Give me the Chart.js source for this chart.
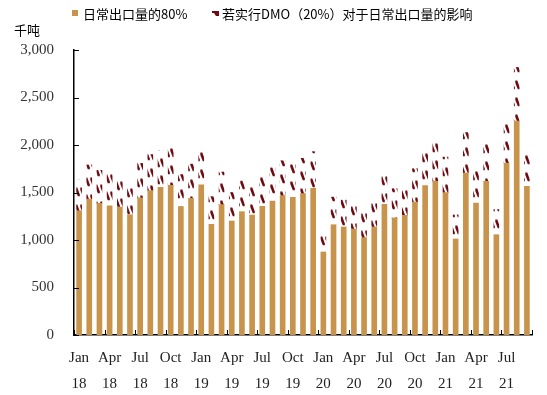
<!DOCTYPE html>
<html>
<head>
<meta charset="utf-8">
<script src="https://cdn.jsdelivr.net/npm/chart.js@4"></script>
<style>
  html, body { margin: 0; padding: 0; background: #fff; }
  #wrap { width: 547px; height: 395px; position: relative; }
</style>
</head>
<body>
<div id="wrap"><canvas id="dmoChart"></canvas></div>
<script>
// monthly categories, Jan 2018 - Sep 2021
const months = [
    'Jan 18', 'Feb 18', 'Mar 18', 'Apr 18', 'May 18', 'Jun 18', 'Jul 18', 'Aug 18', 'Sep 18', 'Oct 18', 'Nov 18', 'Dec 18',
    'Jan 19', 'Feb 19', 'Mar 19', 'Apr 19', 'May 19', 'Jun 19', 'Jul 19', 'Aug 19', 'Sep 19', 'Oct 19', 'Nov 19', 'Dec 19',
    'Jan 20', 'Feb 20', 'Mar 20', 'Apr 20', 'May 20', 'Jun 20', 'Jul 20', 'Aug 20', 'Sep 20', 'Oct 20', 'Nov 20', 'Dec 20',
    'Jan 21', 'Feb 21', 'Mar 21', 'Apr 21', 'May 21', 'Jun 21', 'Jul 21', 'Aug 21', 'Sep 21'
];

// 日常出口量的80% (千吨)
const exports80 = [
    1308, 1432, 1386, 1361, 1347, 1266, 1445, 1519, 1554, 1576, 1351, 1439,
    1582, 1165, 1372, 1200, 1298, 1263, 1354, 1410, 1467, 1449, 1488, 1544,
    874, 1161, 1137, 1116, 1025, 1137, 1375, 1232, 1260, 1400, 1572, 1618,
    1498, 1011, 1705, 1389, 1618, 1056, 1811, 2253, 1565
];

// 若实行DMO（20%）对于日常出口量的影响 (千吨)
const dmoImpact = [
    327, 358, 347, 340, 337, 317, 361, 380, 389, 394, 338, 360,
    396, 291, 343, 300, 325, 316, 339, 353, 367, 362, 372, 386,
    219, 290, 284, 279, 256, 284, 344, 308, 315, 350, 393, 405,
    375, 253, 426, 347, 405, 264, 453, 563, 391
];

const yTicks = [0, 500, 1000, 1500, 2000, 2500, 3000];
const seriesNames = ['日常出口量的80%', '若实行DMO（20%）对于日常出口量的影响'];
const unitLabel = '千吨';

const TAN = '#c8944c';
const MAROON = '#6e0a10';

// hatch tile for the DMO part
const hatchTile = (() => {
    const tile = document.createElement('canvas');
    tile.width = 5;
    tile.height = 17;
    const t = tile.getContext('2d');
    t.fillStyle = '#fff';
    t.fillRect(0, 0, 5, 17);
    t.fillStyle = MAROON;
    t.beginPath();
    t.moveTo(0.3, 0.5);
    t.lineTo(2.3, 0.5);
    t.lineTo(4.8, 7.5);
    t.lineTo(4.8, 9.3);
    t.lineTo(2.8, 9.3);
    t.lineTo(0.3, 3);
    t.closePath();
    t.fill();
    return tile;
})();

// a few phase-shifted copies so neighbouring bars don't line up
const hatchCache = {};
const hatchFor = (chartCtx, i) => {
    const shift = (i * 7) % 17;
    if (!hatchCache[shift]) {
        const p = chartCtx.createPattern(hatchTile, 'repeat');
        p.setTransform(new DOMMatrix().translate(0, shift));
        hatchCache[shift] = p;
    }
    return hatchCache[shift];
};

// ticks pointing inside, legend and unit label
const extrasPlugin = {
    id: 'extras',
    afterDraw(chart) {
        const { ctx, chartArea, scales } = chart;
        const y = scales.y;
        ctx.save();
        ctx.strokeStyle = '#000';
        ctx.lineWidth = 1;
        yTicks.forEach(v => {
            const py = Math.round(y.getPixelForValue(v)) + 0.5;
            ctx.beginPath();
            ctx.moveTo(chartArea.left, py);
            ctx.lineTo(chartArea.left + 5, py);
            ctx.stroke();
        });
        const step = (chartArea.right - chartArea.left) / months.length;
        for (let i = 0; i <= months.length; i += 3) {
            const px = Math.round(chartArea.left + i * step) + 0.5;
            ctx.beginPath();
            ctx.moveTo(px, chartArea.bottom);
            ctx.lineTo(px, chartArea.bottom - 5);
            ctx.stroke();
        }

        // legend
        ctx.font = '13px "Noto Sans CJK SC", sans-serif';
        ctx.textBaseline = 'middle';
        ctx.fillStyle = TAN;
        ctx.fillRect(72, 10, 6, 6);
        ctx.fillStyle = '#000';
        ctx.fillText(seriesNames[0], 83, 14);

        ctx.fillStyle = MAROON;
        ctx.beginPath();
        ctx.moveTo(212, 11);
        ctx.lineTo(219, 11);
        ctx.lineTo(219, 16);
        ctx.lineTo(216, 16);
        ctx.lineTo(214, 13);
        ctx.lineTo(212, 13);
        ctx.closePath();
        ctx.fill();
        ctx.fillStyle = '#000';
        ctx.fillText(seriesNames[1], 222, 14);

        ctx.fillText(unitLabel, 14, 30);
        ctx.restore();
    }
};

const ctx = document.getElementById('dmoChart').getContext('2d');

const config = {
    type: 'bar',
    data: {
        labels: months,
        datasets: [{
            label: seriesNames[0],
            data: exports80,
            backgroundColor: TAN,
            barThickness: 5,
            stack: 's'
        }, {
            label: seriesNames[1],
            data: dmoImpact,
            backgroundColor: (c) => hatchFor(c.chart.ctx, c.dataIndex),
            barThickness: 5,
            stack: 's'
        }]
    },
    options: {
        responsive: true,
        maintainAspectRatio: false,
        animation: false,
        layout: {
            padding: { top: 50, right: 15, left: 0, bottom: 0 }
        },
        plugins: {
            legend: { display: false },
            tooltip: { enabled: false }
        },
        scales: {
            x: {
                stacked: true,
                grid: { display: false, drawTicks: false },
                border: { color: '#000', width: 1.5 },
                afterFit: (scale) => { scale.height = 60; },
                ticks: {
                    autoSkip: false,
                    maxRotation: 0,
                    padding: 10,
                    color: '#222',
                    font: { family: '"Liberation Serif", serif', size: 15, lineHeight: 1.75 },
                    callback: function(val, idx) {
                        if (idx % 3 !== 0) return '';
                        return months[idx].split(' ');
                    }
                }
            },
            y: {
                stacked: true,
                min: 0,
                max: 3000,
                grid: { display: false, drawTicks: false },
                border: { color: '#000', width: 1.5 },
                afterFit: (scale) => { scale.width = 74; },
                afterBuildTicks: (scale) => {
                    scale.ticks = yTicks.map(v => ({ value: v }));
                },
                ticks: {
                    padding: 20,
                    color: '#333',
                    font: { family: '"Liberation Serif", serif', size: 15 },
                    callback: (v) => v.toLocaleString('en-US')
                }
            }
        }
    },
    plugins: [extrasPlugin]
};

new Chart(ctx, config);
</script>
</body>
</html>
